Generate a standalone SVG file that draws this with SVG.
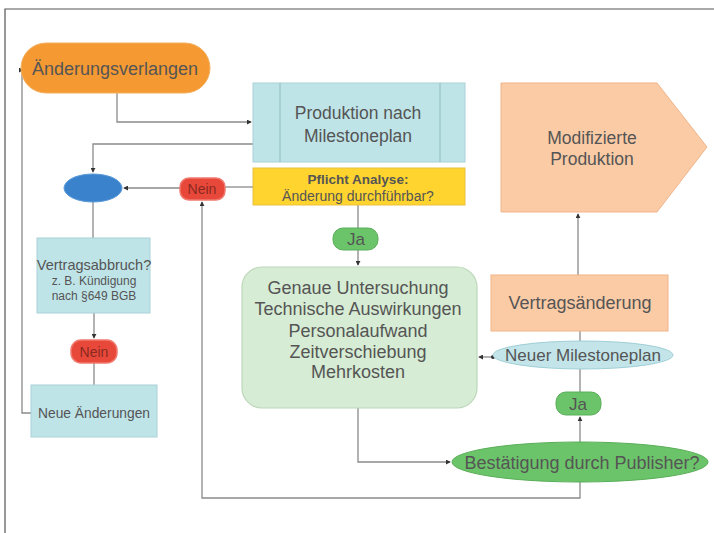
<svg xmlns="http://www.w3.org/2000/svg" width="714" height="533" viewBox="0 0 714 533">
<defs>
<marker id="arr" viewBox="0 0 6 6" refX="5" refY="3" markerWidth="5" markerHeight="5" orient="auto" markerUnits="userSpaceOnUse">
<path d="M0,0 L6,3 L0,6 z" fill="#333"/>
</marker>
<marker id="dot" viewBox="0 0 4 4" refX="2" refY="2" markerWidth="4" markerHeight="4" markerUnits="userSpaceOnUse">
<circle cx="2" cy="2" r="2" fill="#333"/>
</marker>
</defs>
<style>
text{font-family:"Liberation Sans",Arial,sans-serif;text-anchor:middle;fill:#555}
.con{fill:none;stroke:#8a8a8a;stroke-width:1.3}
.frame{stroke:#555;stroke-width:1.2;fill:none}
.cyan{fill:#bfe4e8;stroke:#a9d2d8;stroke-width:1}
.peach{fill:#fbcba6;stroke:#efb48a;stroke-width:1}
.green{fill:#6cc46a;stroke:#5aae58;stroke-width:1}
.red{fill:#e8483a;stroke:#f07a70;stroke-width:1.5}
.redt{fill:#8a2a20;font-size:14px}
</style>
<rect width="714" height="533" fill="#ffffff"/>
<path class="frame" d="M5,533 V9 H714"/>

<g id="connectors">
<path class="con" d="M117,93 V122 H251" marker-end="url(#arr)"/>
<path class="con" d="M253,144 H93 V172" marker-end="url(#arr)"/>
<path class="con" d="M253,187 H225"/>
<path class="con" d="M180,188 H124" marker-end="url(#arr)"/>
<path class="con" d="M93,202 V238"/>
<path class="con" d="M94,313 V338" marker-end="url(#arr)"/>
<path class="con" d="M94,363 V385"/>
<path class="con" d="M31,413 H22 V70 H23" marker-end="url(#arr)"/>
<path class="con" d="M358,205 V228"/>
<path class="con" d="M358,250 V265" marker-end="url(#arr)"/>
<path class="con" d="M358,408 V462 H450" marker-end="url(#arr)"/>
<path class="con" d="M580,482 V498 H202 V202" marker-end="url(#arr)"/>
<path class="con" d="M580,443 V417" marker-end="url(#arr)"/>
<path class="con" d="M580,392 V368"/>
<path class="con" d="M493,357 H479" marker-start="url(#dot)" marker-end="url(#arr)"/>
<path class="con" d="M580,341 V331"/>
<path class="con" d="M578,275 V214" marker-end="url(#arr)"/>
</g>

<g id="n-aenderungsverlangen">
<rect x="21" y="43" width="189" height="50" rx="25" fill="#f59a32" stroke="#f4b060" stroke-width="1"/>
<text x="115" y="75" font-size="18" fill="#5a4a3a">Änderungsverlangen</text>
</g>

<g id="n-produktion">
<rect class="cyan" x="253" y="83" width="212" height="79"/>
<line x1="280" y1="83" x2="280" y2="162" stroke="#8fbcc2"/>
<line x1="440" y1="83" x2="440" y2="162" stroke="#8fbcc2"/>
<text x="358" y="119" font-size="17.5">Produktion nach</text>
<text x="358" y="142" font-size="17.5">Milestoneplan</text>
</g>

<g id="n-pflicht">
<rect x="253" y="168" width="212" height="37" fill="#ffd42e" stroke="#e8c040" stroke-width="1"/>
<text x="358" y="184" font-size="13.5" font-weight="bold" fill="#3a3a2a">Pflicht Analyse:</text>
<text x="358" y="201" font-size="14" fill="#7a7440">Änderung durchführbar?</text>
</g>

<g id="n-nein1">
<rect class="red" x="180" y="178" width="45" height="22" rx="9"/>
<text class="redt" x="202" y="194">Nein</text>
</g>

<g id="n-entscheidung">
<ellipse cx="93" cy="188" rx="29" ry="14" fill="#3a83cc" stroke="#5a9ad8" stroke-width="1"/>
</g>

<g id="n-vertragsabbruch">
<rect class="cyan" x="37" y="238" width="113" height="75"/>
<text x="94" y="270" font-size="14.5">Vertragsabbruch?</text>
<text x="94" y="285" font-size="12">z. B. Kündigung</text>
<text x="94" y="300" font-size="12">nach §649 BGB</text>
</g>

<g id="n-nein2">
<rect class="red" x="71" y="340" width="46" height="23" rx="10"/>
<text class="redt" x="94" y="357">Nein</text>
</g>

<g id="n-neue">
<rect class="cyan" x="31" y="385" width="126" height="52"/>
<text x="94" y="418" font-size="13.8">Neue Änderungen</text>
</g>

<g id="n-ja1">
<rect class="green" x="333" y="228" width="45" height="22" rx="10"/>
<text x="356" y="245" font-size="17" fill="#3f6a3e">Ja</text>
</g>

<g id="n-genaue">
<rect x="242" y="267" width="235" height="141" rx="20" fill="#d6ecd4" stroke="#bcd8b9" stroke-width="1.2"/>
<text x="358" y="294" font-size="18">Genaue Untersuchung</text>
<text x="358" y="315" font-size="18">Technische Auswirkungen</text>
<text x="358" y="337" font-size="18">Personalaufwand</text>
<text x="358" y="358" font-size="18">Zeitverschiebung</text>
<text x="358" y="378" font-size="18">Mehrkosten</text>
</g>

<g id="n-modifizierte">
<polygon class="peach" points="501,83 657,83 707,147 657,212 501,212"/>
<text x="592" y="144" font-size="17.5">Modifizierte</text>
<text x="592" y="165" font-size="17.5">Produktion</text>
</g>

<g id="n-vertragsaenderung">
<rect class="peach" x="491" y="275" width="177" height="56"/>
<text x="580" y="309" font-size="18">Vertragsänderung</text>
</g>

<g id="n-neuer-milestoneplan">
<ellipse cx="583" cy="355" rx="90" ry="14" fill="#c3e5ea" stroke="#9fcfd6" stroke-width="1"/>
<text x="583" y="361" font-size="17">Neuer Milestoneplan</text>
</g>

<g id="n-ja2">
<rect class="green" x="556" y="392" width="45" height="23" rx="10"/>
<text x="578" y="410" font-size="17" fill="#3f6a3e">Ja</text>
</g>

<g id="n-bestaetigung">
<ellipse class="green" cx="580" cy="462" rx="128" ry="20"/>
<text x="582" y="469" font-size="18" fill="#3d5a3c">Bestätigung durch Publisher?</text>
</g>
</svg>
